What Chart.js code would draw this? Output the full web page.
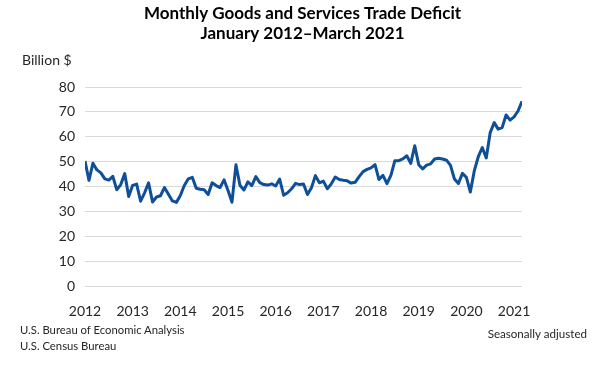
<!DOCTYPE html>
<html>
<head>
<meta charset="utf-8">
<script src="https://cdn.jsdelivr.net/npm/chart.js@4.4.1/dist/chart.umd.min.js"></script>
<style>
  body { margin: 0; background: #fff; }
  #wrap { position: relative; width: 605px; height: 365px; font-family: Lato, "Liberation Sans", sans-serif; color: #262626; }
  #myChart { position: absolute; left: 0; top: 0; }
  .note { position: absolute; white-space: nowrap; }
</style>
</head>
<body>
<div id="wrap">
  <canvas id="myChart" width="605" height="365"></canvas>
  <div class="note" style="left:22px; top:51px; font-size:14px;">Billion $</div>
  <div class="note" style="left:20px; top:323px; font-size:11.3px;">U.S. Bureau of Economic Analysis</div>
  <div class="note" style="left:20px; top:339px; font-size:11.3px;">U.S. Census Bureau</div>
  <div class="note" style="right:18px; top:327px; font-size:11.6px;">Seasonally adjusted</div>
</div>
<script>
// tick labels on the x axis, one per January
const years = ['2012', '2013', '2014', '2015', '2016', '2017', '2018', '2019', '2020', '2021']

// monthly deficit, billion $, Jan 2012 .. Mar 2021
const deficit = [
  50.3, 42.5, 49.4, 46.7, 45.5, 43.1, 42.6, 44.1, 38.7, 40.8, 45.2, 36.0, // 2012
  40.5, 41.0, 34.1, 37.5, 41.5, 33.8, 35.8, 36.3, 39.6, 36.9, 34.2, 33.6, // 2013
  36.4, 40.4, 43.1, 43.7, 39.3, 38.9, 38.7, 36.8, 41.5, 40.4, 39.6, 42.7, // 2014
  38.4, 33.7, 48.8, 40.5, 38.6, 41.9, 40.4, 44.0, 41.6, 40.8, 40.6, 41.1, // 2015
  40.2, 43.0, 36.5, 37.5, 39.1, 41.3, 40.8, 41.0, 36.8, 39.5, 44.4, 41.5, // 2016
  42.2, 39.1, 41.1, 43.8, 42.8, 42.5, 42.3, 41.4, 41.7, 44.0, 46.0, 46.9, // 2017
  47.5, 48.8, 42.8, 44.5, 41.2, 44.5, 50.4, 50.4, 51.1, 52.4, 49.3, 56.4, // 2018
  48.8, 47.1, 48.6, 49.1, 51.1, 51.4, 51.1, 50.6, 48.5, 43.0, 41.2, 45.3, // 2019
  43.7, 37.8, 46.4, 52.0, 55.7, 51.5, 61.7, 65.7, 63.1, 63.7, 68.8, 66.7, // 2020
  68.0, 70.4, 74.3                                                       // 2021
]

const points = deficit.map((v, i) => ({ x: i, y: v }))

const ctx = document.getElementById('myChart')

new Chart(ctx, {
  type: 'line',
  data: {
    datasets: [{
      data: points,
      borderColor: '#0f4f97',
      borderWidth: 3,
      borderJoinStyle: 'round',
      pointRadius: 0,
      tension: 0,
    }]
  },
  options: {
    responsive: false,
    animation: false,
    layout: { padding: 0 },
    plugins: {
      legend: { display: false },
      tooltip: { enabled: false },
      title: {
        display: true,
        text: ['Monthly Goods and Services Trade Deficit', 'January 2012\u2013March 2021'],
        color: '#000',
        font: { family: 'Lato, "Liberation Sans", sans-serif', size: 17, weight: 'bold', lineHeight: 1.15 },
        padding: { top: 4, bottom: 44 }
      }
    },
    scales: {
      x: {
        type: 'linear',
        min: 0,
        max: deficit.length - 1,
        grid: { display: false },
        border: { display: false },
        ticks: {
          stepSize: 12,
          includeBounds: false,
          autoSkip: false,
          maxRotation: 0,
          padding: 9,
          color: '#262626',
          font: { family: 'Lato, "Liberation Sans", sans-serif', size: 14 },
          callback: (v) => years[v / 12]
        },
        afterFit: (s) => { s.height = 79 }
      },
      y: {
        min: 0,
        max: 80,
        grid: { color: '#d9d9d9', lineWidth: 1, drawTicks: false },
        border: { display: false },
        ticks: {
          stepSize: 10,
          padding: 10,
          color: '#262626',
          font: { family: 'Lato, "Liberation Sans", sans-serif', size: 14 }
        },
        afterFit: (s) => { s.width = 85 }
      },
      yRight: {
        position: 'right',
        min: 0,
        max: 80,
        grid: { display: false },
        border: { display: false },
        ticks: { display: false },
        afterFit: (s) => { s.width = 83 }
      }
    }
  }
})
</script>
</body>
</html>
